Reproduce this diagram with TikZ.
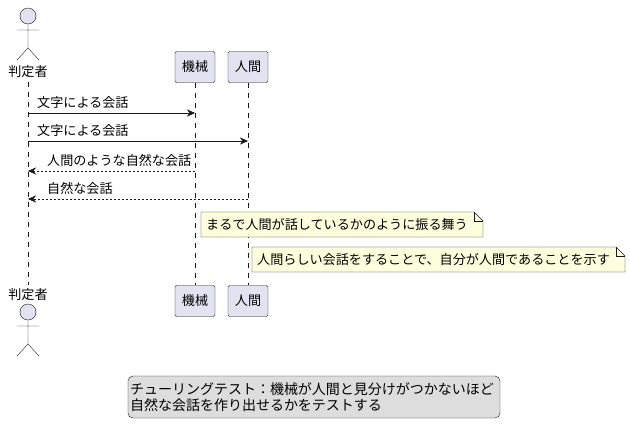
\documentclass[tikz,border=0pt]{standalone}
\usepackage{fontspec}
\setmainfont{Noto Sans CJK JP}
\usetikzlibrary{calc,arrows.meta}
\definecolor{partfill}{HTML}{E2E2F0}
\definecolor{notefill}{HTML}{FEFFDD}
\definecolor{legfill}{HTML}{DDDDDD}
\definecolor{ink}{HTML}{181818}

\begin{document}
\begin{tikzpicture}[x=1pt, y=-1pt, font=\fontsize{13.1}{15}\selectfont,
  part/.style={draw=ink, fill=partfill, rounded corners=2pt, minimum width=40pt, minimum height=31pt, inner sep=3pt},
  life/.style={draw=ink, dash pattern=on 5pt off 5pt, thin},
  msg/.style={draw=ink, -{Stealth[length=8pt, width=7pt]}},
  ret/.style={draw=ink, dash pattern=on 2pt off 2pt, -{Stealth[length=8pt, width=7pt]}},
  lbl/.style={anchor=south west, inner sep=1pt}]
\useasboundingbox (0,0) rectangle (630,437);

% actors
\newcommand{\actorman}[2]{%
  \draw[ink, fill=partfill] (#1,#2) circle (8);
  \draw[ink] (#1,#2+8) -- (#1,#2+32) (#1-11,#2+14) -- (#1+11,#2+14)
    (#1-11,#2+44) -- (#1,#2+32) -- (#1+11,#2+44);}
\actorman{28}{16}
\actorman{28}{312}
\node (judgeT) at (28,72) {判定者};
\node (judgeB) at (28,295) {判定者};

% participants
\node[part] (machT) at (195,67) {機械};
\node[part] (humT) at (248,67) {人間};
\node[part] (machB) at (195,301) {機械};
\node[part] (humB) at (248,301) {人間};

\draw[life] (judgeT.south) -- (judgeB.north);
\draw[life] (machT.south) -- (machB.north);
\draw[life] (humT.south) -- (humB.north);

% messages
\foreach \y/\tx/\nm in {113/195/a, 141/248/b, 171/195/c, 199/248/d}{
  \coordinate (j\nm) at (28,\y);
  \coordinate (t\nm) at (\tx,\y);}
\draw[msg] (ja) -- (ta);
\node[lbl] at ($(ja)+(8,-3)$) {文字による会話};
\draw[msg] (jb) -- (tb);
\node[lbl] at ($(jb)+(8,-3)$) {文字による会話};
\draw[ret] (tc) -- (jc);
\node[lbl] at ($(jc)+(18,-3)$) {人間のような自然な会話};
\draw[ret] (td) -- (jd);
\node[lbl] at ($(jd)+(18,-3)$) {自然な会話};

% notes
\newcommand{\notebox}[5]{%
  \draw[ink, fill=notefill] (#1,#2) -- (#3-9,#2) -- (#3,#2+9) -- (#3,#4) -- (#1,#4) -- cycle;
  \draw[ink] (#3-9,#2) -- (#3-9,#2+9) -- (#3,#2+9);
  \node[anchor=west, inner sep=1pt] at (#1+4,#2/2+#4/2) {#5};}
\notebox{201}{212}{483}{237}{まるで人間が話しているかのように振る舞う}
\notebox{252}{247}{625}{272}{人間らしい会話をすることで、自分が人間であることを示す}

% legend
\node[draw=ink, fill=legfill, rounded corners=5pt, align=left, minimum width=372pt, minimum height=42pt, text width=368pt, inner sep=2pt, font=\fontsize{14}{16}\selectfont] (legend) at (314,397)
  {チューリングテスト：機械が人間と見分けがつかないほど\\自然な会話を作り出せるかをテストする};
\end{tikzpicture}
\end{document}
